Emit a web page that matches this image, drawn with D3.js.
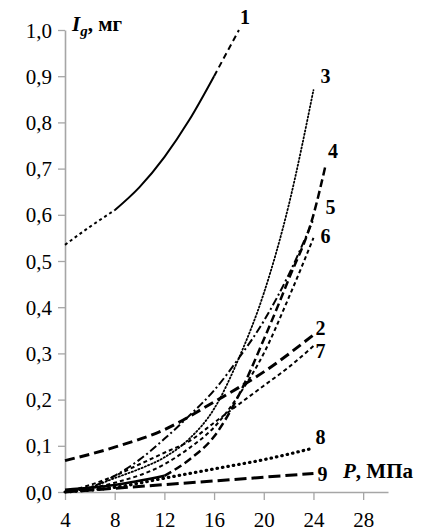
<!DOCTYPE html>
<html>
<head>
<meta charset="utf-8">
<script src="https://cdn.jsdelivr.net/npm/d3@7"></script>
<style>
  body { margin: 0; background: #fff; }
  svg text { font-family: "Liberation Serif", "Times New Roman", serif; fill: #000; }
  .axis text { font-family: "Liberation Serif", "Times New Roman", serif !important; font-size: 21px !important; }
</style>
</head>
<body>
<svg id="chart" width="426" height="532"></svg>
<script>
// DATA (P, MPa  ->  I_g, mg)
const xTicks = [4, 8, 12, 16, 20, 24, 28];
const yTicks = [0, 0.1, 0.2, 0.3, 0.4, 0.5, 0.6, 0.7, 0.8, 0.9, 1.0];

const s1 = [[4, 0.535], [6, 0.574], [8, 0.61], [10, 0.66], [12, 0.725], [14, 0.805], [16, 0.9], [18, 1.0]];
const s2 = [[4, 0.068], [8, 0.097], [12, 0.135], [16, 0.195], [20, 0.26], [24, 0.34]];
const s3 = [[4, 0.0], [6, 0.01], [8, 0.03], [10, 0.05], [12, 0.075], [14, 0.115], [16, 0.18], [18, 0.29], [20, 0.43], [22, 0.62], [24, 0.87]];
const s4 = [[4, 0.005], [8, 0.015], [12, 0.035], [14, 0.07], [16, 0.12], [18, 0.21], [20, 0.33], [22, 0.46], [24, 0.6], [25, 0.71]];
const s5 = [[4, 0.0], [6, 0.01], [8, 0.035], [10, 0.07], [12, 0.115], [14, 0.165], [16, 0.22], [18, 0.29], [20, 0.37], [22, 0.47], [24, 0.59]];
const s6 = [[4, 0.0], [8, 0.02], [12, 0.06], [14, 0.095], [16, 0.14], [18, 0.21], [20, 0.3], [22, 0.42], [24, 0.55]];
const s7 = [[4, 0.0], [6, 0.015], [8, 0.035], [10, 0.06], [12, 0.085], [14, 0.11], [16, 0.15], [18, 0.19], [20, 0.23], [22, 0.27], [24, 0.316]];
const s8 = [[4, 0.0], [8, 0.01], [12, 0.03], [16, 0.05], [20, 0.07], [24, 0.095]];
const s9 = [[4, 0.0], [8, 0.008], [12, 0.016], [16, 0.024], [20, 0.032], [24, 0.04]];

const seriesNames = ["1", "2", "3", "4", "5", "6", "7", "8", "9"];
const seriesData = [s1, s2, s3, s4, s5, s6, s7, s8, s9];

// line styles: pieces = [from P, to P, dasharray, width]
const styles = [
  { pieces: [[4, 8, "3,3", 2], [8, 16, null, 2], [16, 18, "6,4", 2]], lx: 6, ly: -13 },
  { pieces: [[4, 24, "10,5", 3]], lx: 7, ly: -7 },
  { pieces: [[4, 24, "1.2,2.3", 1.8]], lx: 12, ly: -14, cap: "round" },
  { pieces: [[4, 12, null, 2.5], [12, 25, "8,4", 2.5]], lx: 7, ly: -13 },
  { pieces: [[4, 24, "8,3,2,3", 2]], lx: 17, ly: -12 },
  { pieces: [[4, 24, "4,3", 2]], lx: 12, ly: -2 },
  { pieces: [[4, 24, "4,3", 2]], lx: 7, ly: 5 },
  { pieces: [[4, 24, "0.5,5", 3.2]], lx: 7, ly: -11, cap: "round" },
  { pieces: [[4, 24, "12,5", 3]], lx: 9, ly: 0 }
];

const svg = d3.select('#chart');

var x = d3.scaleLinear().domain([4, 30]).range([65, 388]),
	y = d3.scaleLinear().domain([0, 1]).range([492, 30]);

const axisColor = '#a6a6a6';
const comma = d => d3.format('.1f')(d).replace('.', ',');

// AXES
var yAxis = svg.append('g')
	.attr('class', 'axis')
	.attr('transform', `translate(${x(4)},0)`)
	.call(d3.axisLeft(y).tickValues(yTicks).tickSize(7).tickSizeOuter(0).tickFormat(comma));

var xAxis = svg.append('g')
	.attr('class', 'axis')
	.attr('transform', `translate(0,${y(0)})`)
	.call(d3.axisBottom(x).tickValues(xTicks).tickSize(8).tickSizeOuter(0).tickFormat(d3.format('d')));

[xAxis, yAxis].forEach(ax => {
	ax.attr('font-family', null).attr('font-size', null);
	ax.select('.domain').attr('stroke', axisColor).attr('stroke-width', 1.6);
	ax.selectAll('.tick line').attr('stroke', axisColor).attr('stroke-width', 1.3);
	ax.selectAll('.tick text').attr('fill', '#000');
});
yAxis.selectAll('.tick text').attr('x', -13).attr('dy', '0.34em');
xAxis.selectAll('.tick text').attr('y', 20).attr('dy', '0.71em');

// CURVES
var line = d3.line()
	.x(d => x(d[0]))
	.y(d => y(d[1]))
	.curve(d3.curveMonotoneX);

var curves = svg.append('g');

seriesData.forEach((data, i) => {
	let st = styles[i];
	st.pieces.forEach(p => {
		let part = data.filter(d => d[0] >= p[0] && d[0] <= p[1]);
		curves.append('path')
			.attr('d', line(part))
			.attr('fill', 'none')
			.attr('stroke', '#000')
			.attr('stroke-width', p[3])
			.attr('stroke-linecap', st.cap || 'butt')
			.attr('stroke-dasharray', p[2]);
	});

	// number label next to the end of the curve
	let last = data[data.length - 1];
	svg.append('text')
		.attr('x', x(last[0]) + st.lx)
		.attr('y', y(last[1]) + st.ly)
		.attr('text-anchor', 'middle')
		.attr('dy', '0.35em')
		.style('font-size', '20px')
		.style('font-weight', 'bold')
		.text(seriesNames[i]);
});

// AXIS TITLES
var yTitle = svg.append('text')
	.attr('x', 72)
	.attr('y', 31)
	.style('font-size', '21px')
	.style('font-weight', 'bold');
yTitle.append('tspan').style('font-style', 'italic').text('I');
yTitle.append('tspan').style('font-style', 'italic').style('font-size', '15px').attr('dy', 5).text('g');
yTitle.append('tspan').attr('dy', -5).text(', мг');

var xTitle = svg.append('text')
	.attr('x', 343)
	.attr('y', 478)
	.style('font-size', '21px')
	.style('font-weight', 'bold');
xTitle.append('tspan').style('font-style', 'italic').text('P');
xTitle.append('tspan').text(', МПа');
</script>
</body>
</html>
